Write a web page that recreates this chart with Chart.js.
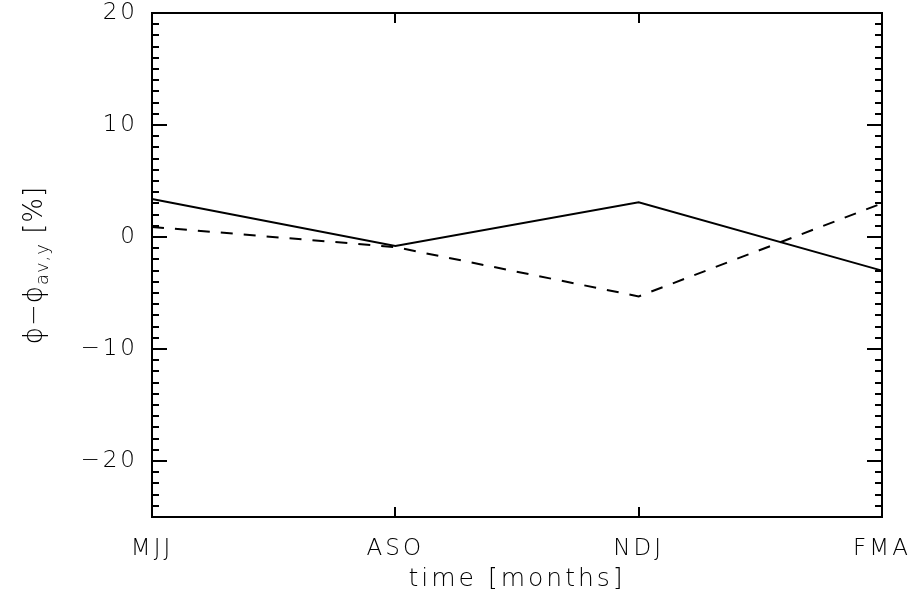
<!DOCTYPE html>
<html>
<head>
<meta charset="utf-8">
<script src="https://cdn.jsdelivr.net/npm/chart.js@4/dist/chart.umd.min.js"></script>
<style>
  html, body { margin: 0; padding: 0; background: #fff; }
  #wrap { width: 916px; height: 594px; }
</style>
</head>
<body>
<div id="wrap"><canvas id="c" width="916" height="594"></canvas></div>
<script>
// Seasons (three-month windows)
const seasons = ['MJJ', 'ASO', 'NDJ', 'FMA'];
// Deviation from the yearly mean, percent
const solidSeries = [3.4, -0.8, 3.1, -3.0];
const dashedSeries = [0.9, -0.9, -5.3, 3.0];
// Axis settings
const yMin = -25, yMax = 20;
const yMajorTicks = [-20, -10, 0, 10, 20];
const yMinorStep = 1;
const xTitle = 'time [months]';
const yTitleMain = 'ϕ−ϕ';
const yTitleSub = 'av,y';
const yTitleTail = ' [%]';

const FONT = '"DejaVu Sans", sans-serif';
const INK = '#000';
const SPACING = '3px';

function minusLabel(v) {
  return v < 0 ? '\u2212' + Math.abs(v) : String(v);
}

// Wide letter spacing for all canvas text
const spacingPlugin = {
  id: 'spacing',
  beforeLayout(chart) { chart.ctx.letterSpacing = SPACING; },
  beforeDraw(chart) { chart.ctx.letterSpacing = SPACING; }
};

// Box frame, inward tick marks on all four sides, and the y-axis title with subscript
const framePlugin = {
  id: 'frame',
  afterDatasetsDraw(chart) {
    const { ctx, chartArea: a, scales: { x, y } } = chart;
    ctx.save();
    ctx.strokeStyle = INK;
    ctx.lineCap = 'butt';
    ctx.lineWidth = 2;
    ctx.strokeRect(a.left, a.top, a.right - a.left, a.bottom - a.top);

    ctx.beginPath();
    // y minor + major ticks, left and right
    for (let v = yMin; v <= yMax + 1e-9; v += yMinorStep) {
      const py = Math.round(y.getPixelForValue(v));
      const major = yMajorTicks.includes(v);
      const len = major ? 15 : 7;
      ctx.moveTo(a.left, py); ctx.lineTo(a.left + len, py);
      ctx.moveTo(a.right, py); ctx.lineTo(a.right - len, py);
    }
    // x ticks at each season, bottom and top
    for (let i = 0; i < seasons.length; i++) {
      const px = Math.round(x.getPixelForValue(i));
      ctx.moveTo(px, a.bottom); ctx.lineTo(px, a.bottom - 10);
      ctx.moveTo(px, a.top); ctx.lineTo(px, a.top + 10);
    }
    ctx.stroke();

    // y-axis title
    const cy = (a.top + a.bottom) / 2;
    ctx.translate(33, cy);
    ctx.rotate(-Math.PI / 2);
    ctx.fillStyle = INK;
    ctx.letterSpacing = '1px';
    ctx.textBaseline = 'alphabetic';
    const mainFont = '200 26px ' + FONT;
    const subFont = '200 18px ' + FONT;
    ctx.font = mainFont;
    const w1 = ctx.measureText(yTitleMain).width;
    const w3 = ctx.measureText(yTitleTail).width;
    ctx.font = subFont;
    const w2 = ctx.measureText(yTitleSub).width;
    let sx = -(w1 + w2 + w3) / 2;
    const base = 9;
    ctx.font = mainFont;
    ctx.fillText(yTitleMain, sx, base);
    sx += w1;
    ctx.font = subFont;
    ctx.fillText(yTitleSub, sx, base + 6);
    sx += w2;
    ctx.font = mainFont;
    ctx.fillText(yTitleTail, sx, base);
    ctx.restore();
  }
};

new Chart(document.getElementById('c'), {
  type: 'line',
  data: {
    labels: seasons,
    datasets: [
      {
        data: solidSeries,
        borderColor: INK,
        borderWidth: 2,
        pointRadius: 0,
        tension: 0,
        fill: false
      },
      {
        data: dashedSeries,
        borderColor: INK,
        borderWidth: 2,
        borderDash: [12, 11],
        pointRadius: 0,
        tension: 0,
        fill: false
      }
    ]
  },
  options: {
    responsive: false,
    animation: false,
    devicePixelRatio: 1,
    layout: { padding: { top: 13, right: 34, left: 0, bottom: 0 } },
    plugins: {
      legend: { display: false },
      tooltip: { enabled: false }
    },
    scales: {
      x: {
        type: 'category',
        offset: false,
        grid: { display: false, drawTicks: false },
        border: { display: false },
        ticks: {
          color: INK,
          font: { family: FONT, size: 23, weight: 200 },
          padding: 18,
          maxRotation: 0,
          autoSkip: false
        },
        title: {
          display: true,
          text: xTitle,
          color: INK,
          font: { family: FONT, size: 25, weight: 200 },
          padding: { top: 0, bottom: 0 }
        },
        afterFit(scale) {
          scale.height = 77;
          scale.paddingLeft = 0;
          scale.paddingRight = 0;
        }
      },
      y: {
        min: yMin,
        max: yMax,
        afterBuildTicks(scale) {
          scale.ticks = yMajorTicks.map(v => ({ value: v }));
        },
        grid: { display: false, drawTicks: false },
        border: { display: false },
        ticks: {
          color: INK,
          font: { family: FONT, size: 23, weight: 200 },
          padding: 14,
          callback: v => minusLabel(v)
        },
        afterFit(scale) {
          scale.width = 152;
          scale.paddingTop = 0;
          scale.paddingBottom = 0;
        }
      }
    }
  },
  plugins: [spacingPlugin, framePlugin]
});
</script>
</body>
</html>
